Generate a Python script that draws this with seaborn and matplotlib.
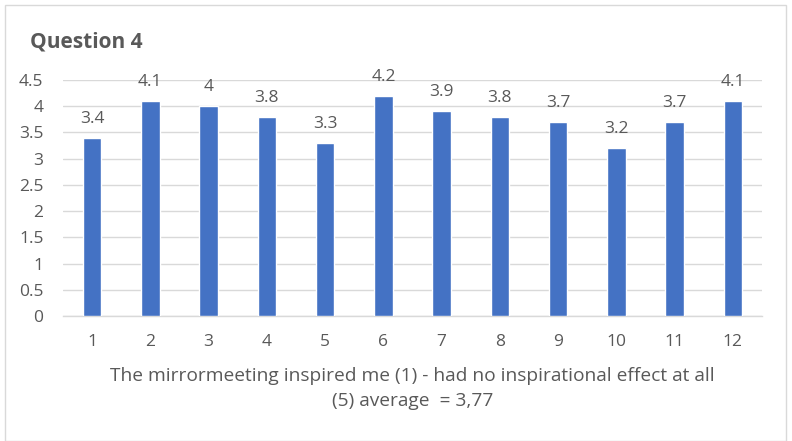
import matplotlib
matplotlib.use("Agg")
import matplotlib.pyplot as plt
import seaborn as sns
import pandas as pd
from matplotlib.patches import Rectangle

# Respondent numbers and their average scores
respondents = ["1", "2", "3", "4", "5", "6", "7", "8", "9", "10", "11", "12"]
scores = [3.4, 4.1, 4.0, 3.8, 3.3, 4.2, 3.9, 3.8, 3.7, 3.2, 3.7, 4.1]
score_labels = ["3.4", "4.1", "4", "3.8", "3.3", "4.2", "3.9", "3.8", "3.7", "3.2", "3.7", "4.1"]
y_ticks = [0, 0.5, 1, 1.5, 2, 2.5, 3, 3.5, 4, 4.5]
y_tick_labels = ["0", "0.5", "1", "1.5", "2", "2.5", "3", "3.5", "4", "4.5"]

title = "Question 4"
x_title = "The mirrormeeting inspired me (1) - had no inspirational effect at all\n(5) average  = 3,77"

sns.set_theme(style="white")
plt.rcParams["font.family"] = ["Open Sans", "DejaVu Sans"]

text_color = "#595959"
bar_color = "#4472C4"
grid_color = "#D9D9D9"

df = pd.DataFrame({"respondent": respondents, "score": scores})

fig = plt.figure(figsize=(7.92, 4.41), dpi=100)
ax = fig.add_axes([63 / 792, (441 - 316) / 441, (762 - 63) / 792, (316 - 80) / 441])

sns.barplot(data=df, x="respondent", y="score", color=bar_color, width=0.32,
            saturation=1, ax=ax, zorder=3)

ax.set_ylim(0, 4.5)
ax.set_yticks(y_ticks)
ax.set_yticklabels(y_tick_labels)
ax.yaxis.grid(True, color=grid_color, linewidth=1, zorder=0)
ax.set_axisbelow(True)
for side in ["top", "right", "left"]:
    ax.spines[side].set_visible(False)
ax.spines["bottom"].set_color(grid_color)
ax.spines["bottom"].set_linewidth(1)

ax.tick_params(axis="both", length=0, labelsize=12.5, colors=text_color)
ax.tick_params(axis="x", pad=13)
ax.tick_params(axis="y", pad=14)

for bar, lab in zip(ax.patches, score_labels):
    ax.annotate(lab, (bar.get_x() + bar.get_width() / 2, bar.get_height()),
                xytext=(0, 8), textcoords="offset points", ha="center", va="bottom",
                fontsize=12.5, color=text_color)

ax.set_xlabel(x_title, fontsize=13.8, color=text_color, labelpad=12, linespacing=1.5)
ax.set_ylabel("")

fig.text(30 / 792, 1 - 42 / 441, title, fontsize=15, fontweight="bold",
         color=text_color, ha="left", va="center")

# light frame around the chart area
fig.patches.append(Rectangle((5 / 792, 0.0), 781 / 792, 1 - 5 / 441,
                             transform=fig.transFigure, fill=False,
                             edgecolor=grid_color, linewidth=1))

fig.savefig("out.png", dpi=100, facecolor="white")
